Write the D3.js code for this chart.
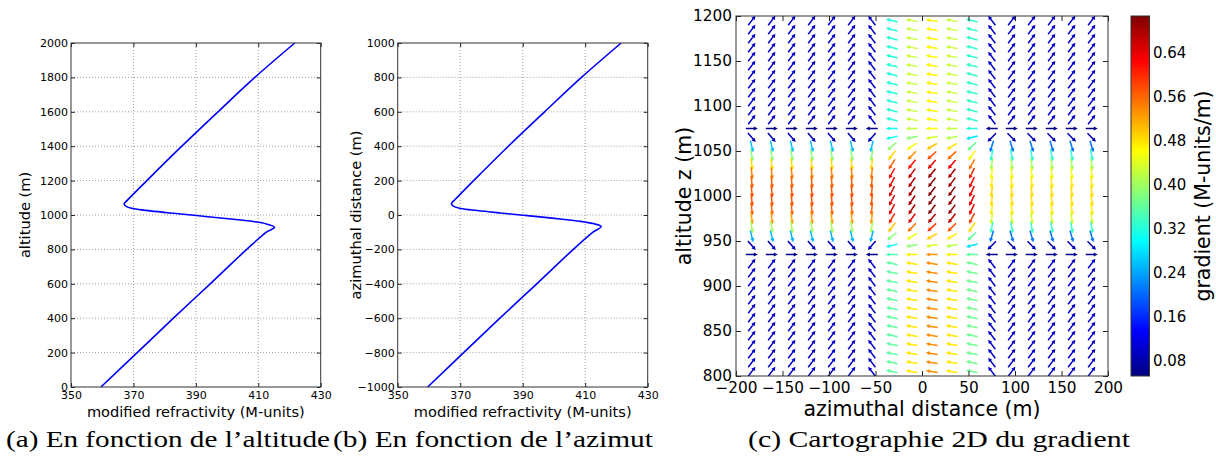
<!DOCTYPE html>
<html><head><meta charset="utf-8">
<script src="https://cdn.jsdelivr.net/npm/d3@7"></script>
<style>body{margin:0;background:#fff} text{font-family:"DejaVu Sans",sans-serif;fill:#000}</style>
</head><body><svg id="c" width="1216" height="461"></svg>
<script>
// ---------- data: panel (a) refractivity vs altitude ----------
const aAltitude = [0, 200, 400, 600, 800, 900, 929, 948, 962, 975, 987, 997, 1010, 1024, 1036, 1049, 1065, 1085, 1200, 1400, 1600, 1800, 2000];
const aM        = [359.6, 371.2, 382.8, 394.6, 406.3, 412.6, 415.2, 412.6, 408.3, 402.0, 395.5, 390.2, 382.8, 375.4, 370.2, 367.8, 367.0, 368.0, 374.3, 385.5, 397.1, 408.9, 421.7];
// ---------- data: panel (b) refractivity vs azimuthal distance ----------
const bAzimuth  = [-1000, -800, -600, -400, -200, -100, -67, -50, -36, -23, -11, -1, 12, 26, 38, 51, 67, 87, 200, 400, 600, 800, 1000];
const bM        = [359.6, 371.1, 382.7, 394.5, 406.2, 412.5, 415.1, 412.5, 408.2, 402.0, 395.5, 390.2, 382.8, 375.4, 370.2, 367.8, 367.2, 368.2, 374.3, 385.4, 397.0, 408.8, 421.5];
const profXTicks = [350, 370, 390, 410, 430];
const aYTicks = [0, 200, 400, 600, 800, 1000, 1200, 1400, 1600, 1800, 2000];
const bYTicks = [-1000, -800, -600, -400, -200, 0, 200, 400, 600, 800, 1000];

// ---------- data: panel (c) gradient field ----------
const colX = [-183, -161.5, -140, -118.5, -97, -75.5, -54, -32.5, -11, 10.5, 32, 53.5, 75, 96.5, 118, 139.5, 161, 182.5];
const rowZ = [1195, 1185, 1175, 1165, 1155, 1145, 1135, 1125, 1115, 1105, 1095, 1085, 1075, 1065, 1055, 1045, 1035, 1025, 1015, 1005,
              995, 985, 975, 965, 955, 945, 935, 925, 915, 905, 895, 885, 875, 865, 855, 845, 835, 825, 815, 805];
// x-gradient per column: above the layer, inside the layer, below the layer
const gxAbove = [0.06, 0.06, 0.06, 0.06, 0.06, 0.06, -0.06, -0.31, -0.42, -0.46, -0.42, -0.32, -0.06, 0.06, 0.06, 0.06, 0.06, 0.06];
const gxLayer = [0.06, 0.06, 0.06, 0.06, 0.06, 0.06, -0.06, -0.30, -0.38, -0.43, -0.41, -0.27, -0.06, 0.06, 0.06, 0.06, 0.06, 0.06];
const gxBelow = [0.06, 0.06, 0.06, 0.06, 0.06, 0.06, -0.06, -0.35, -0.47, -0.53, -0.47, -0.36, -0.06, 0.06, 0.06, 0.06, 0.06, 0.06];
// z-gradient per row: west/centre columns and east columns
const gzWest = [0.08, 0.08, 0.08, 0.08, 0.08, 0.08, 0.08, 0.08, 0.08, 0.08, 0.08, 0.08, 0.0, -0.07, -0.25, -0.38, -0.48, -0.54, -0.56, -0.57,
                -0.57, -0.56, -0.52, -0.40, -0.24, -0.07, 0.0, 0.08, 0.08, 0.08, 0.08, 0.08, 0.08, 0.08, 0.08, 0.08, 0.08, 0.08, 0.08, 0.08];
const gzEast = [0.08, 0.08, 0.08, 0.08, 0.08, 0.08, 0.08, 0.08, 0.08, 0.08, 0.08, 0.08, 0.0, -0.06, -0.20, -0.32, -0.40, -0.45, -0.47, -0.48,
                -0.48, -0.47, -0.43, -0.33, -0.20, -0.06, 0.0, 0.08, 0.08, 0.08, 0.08, 0.08, 0.08, 0.08, 0.08, 0.08, 0.08, 0.08, 0.08, 0.08];
const cXTicks = [-200, -150, -100, -50, 0, 50, 100, 150, 200];
const cYTicks = [800, 850, 900, 950, 1000, 1050, 1100, 1150, 1200];
const cbarDomain = [0.052, 0.707];
const cbarTicks = [0.08, 0.16, 0.24, 0.32, 0.40, 0.48, 0.56, 0.64];

const captions = [
  {t: "(a) En fonction de l’altitude", x: 6, w: 324},
  {t: "(b) En fonction de l’azimut", x: 333, w: 320},
  {t: "(c) Cartographie 2D du gradient", x: 748, w: 382}
];

// ---------- helpers ----------
const svg = d3.select("#c");
const defs = svg.append("defs");
function jet(t) {
  t = Math.max(0, Math.min(1, t));
  const c = v => Math.round(255 * Math.max(0, Math.min(1, v)));
  return `rgb(${c(1.5 - Math.abs(4 * t - 3))},${c(1.5 - Math.abs(4 * t - 2))},${c(1.5 - Math.abs(4 * t - 1))})`;
}

function frameAxes(g, x, y, xt, yt, fs, padX, padY, tick) {
  const [x0, x1] = x.range(), [y0, y1] = y.range();
  const ax = g.append("g").attr("transform", `translate(0,${y0})`)
    .call(d3.axisBottom(x).tickValues(xt).tickSize(-tick).tickPadding(padX).tickFormat(d3.format("d")));
  const at = g.append("g").attr("transform", `translate(0,${y1})`)
    .call(d3.axisTop(x).tickValues(xt).tickSize(-tick).tickFormat(""));
  const ay = g.append("g").attr("transform", `translate(${x0},0)`)
    .call(d3.axisLeft(y).tickValues(yt).tickSize(-tick).tickPadding(padY).tickFormat(d3.format("d")));
  const ar = g.append("g").attr("transform", `translate(${x1},0)`)
    .call(d3.axisRight(y).tickValues(yt).tickSize(-tick).tickFormat(""));
  [ax, at, ay, ar].forEach(a => {
    a.select(".domain").remove();
    a.selectAll("line").attr("stroke", "#222");
    a.selectAll("text").style("font-size", fs + "px").attr("fill", "#000").style("font-family", "DejaVu Sans");
  });
  g.append("rect").attr("x", x0).attr("y", y1).attr("width", x1 - x0).attr("height", y0 - y1)
    .attr("fill", "none").attr("stroke", "#333").attr("stroke-width", 1);
}

function profile(xs, ys, M, H, yt, ylabel, lx) {
  const g = svg.append("g");
  const x = d3.scaleLinear().domain([350, 430]).range(xs);
  const y = d3.scaleLinear().domain([yt[0], yt[yt.length - 1]]).range(ys);
  g.selectAll(".gx").data(profXTicks.slice(1, -1)).join("line")
    .attr("x1", d => x(d)).attr("x2", d => x(d)).attr("y1", ys[0]).attr("y2", ys[1])
    .attr("stroke", "#777").attr("stroke-width", 0.7).attr("stroke-dasharray", "1,2");
  g.selectAll(".gy").data(yt.slice(1, -1)).join("line")
    .attr("y1", d => y(d)).attr("y2", d => y(d)).attr("x1", xs[0]).attr("x2", xs[1])
    .attr("stroke", "#777").attr("stroke-width", 0.7).attr("stroke-dasharray", "1,2");
  const line = d3.line().x((d, i) => x(M[i])).y(d => y(d)).curve(d3.curveCatmullRom.alpha(0.5));
  g.append("path").attr("d", line(H)).attr("fill", "none").attr("stroke", "#0000ff").attr("stroke-width", 1.6);
  frameAxes(g, x, y, profXTicks, yt, 11, 4, 3, 4);
  g.append("text").attr("x", (xs[0] + xs[1]) / 2).attr("y", 417).attr("text-anchor", "middle")
    .style("font-size", "14.6px").text("modified refractivity (M-units)");
  g.append("text").attr("transform", `translate(${lx},${(ys[0] + ys[1]) / 2}) rotate(-90)`)
    .attr("text-anchor", "middle").attr("dy", "0.35em").style("font-size", "14.6px").text(ylabel);
}

profile([71, 320.7], [387, 43], aM, aAltitude, aYTicks, "altitude (m)", 25);
profile([397.7, 647.7], [387, 43], bM, bAzimuth, bYTicks, "azimuthal distance (m)", 356);

// ---------- panel (c) ----------
const gc = svg.append("g");
const cx = d3.scaleLinear().domain([-200, 200]).range([736, 1108]);
const cy = d3.scaleLinear().domain([800, 1200]).range([376, 16]);
const cc = d3.scaleLinear().domain(cbarDomain).range([0, 1]);
defs.append("clipPath").attr("id", "clipc").append("rect")
  .attr("x", 736).attr("y", 16).attr("width", 372).attr("height", 360);

const arrows = [];
rowZ.forEach((z, k) => {
  colX.forEach((xv, i) => {
    let gx;
    if (z > 1070) gx = gxAbove[i]; else if (z < 940) gx = gxBelow[i]; else gx = gxLayer[i];
    const gz = i >= 12 ? gzEast[k] : gzWest[k];
    arrows.push({x: xv, z: z, u: gx, v: gz});
  });
});
const L = 12, sw = 1.5, hw = 4.2, hl = 4.0;
function arrowPts(d) {
  const m = Math.hypot(d.u, d.v);
  const ux = d.u / m, uy = -d.v / m;
  const px = -uy, py = ux;
  const X = cx(d.x), Y = cy(d.z);
  const tx = X - ux * L / 2, ty = Y - uy * L / 2;
  const hx = X + ux * L / 2, hy = Y + uy * L / 2;
  const bx = hx - ux * hl, by = hy - uy * hl;
  const p = [
    [tx + px * sw / 2, ty + py * sw / 2], [bx + px * sw / 2, by + py * sw / 2], [bx + px * hw / 2, by + py * hw / 2],
    [hx, hy], [bx - px * hw / 2, by - py * hw / 2], [bx - px * sw / 2, by - py * sw / 2], [tx - px * sw / 2, ty - py * sw / 2]
  ];
  return p.map(q => q[0].toFixed(2) + "," + q[1].toFixed(2)).join(" ");
}
gc.append("g").attr("clip-path", "url(#clipc)").selectAll("polygon").data(arrows).join("polygon")
  .attr("points", arrowPts).attr("fill", d => jet(cc(Math.hypot(d.u, d.v))));

frameAxes(gc, cx, cy, cXTicks, cYTicks, 15.3, 6, 4, 5);
gc.append("text").attr("x", 922).attr("y", 416).attr("text-anchor", "middle")
  .style("font-size", "20.5px").text("azimuthal distance (m)");
gc.append("text").attr("transform", `translate(684,196) rotate(-90)`).attr("text-anchor", "middle")
  .attr("dy", "0.35em").style("font-size", "20.5px").text("altitude z (m)");

// colorbar
const grad = defs.append("linearGradient").attr("id", "jetg")
  .attr("x1", 0).attr("y1", 1).attr("x2", 0).attr("y2", 0);
[0, 0.125, 0.375, 0.625, 0.875, 1].forEach(t => grad.append("stop").attr("offset", t).attr("stop-color", jet(t)));
const cb = d3.scaleLinear().domain(cbarDomain).range([376, 16]);
svg.append("rect").attr("x", 1131).attr("y", 16).attr("width", 18.5).attr("height", 360)
  .attr("fill", "url(#jetg)").attr("stroke", "#333").attr("stroke-width", 1);
svg.selectAll(".cbt").data(cbarTicks).join("text")
  .attr("x", 1153).attr("y", d => cb(d)).attr("dy", "0.35em").style("font-size", "15px")
  .text(d => d3.format(".2f")(d));
svg.append("text").attr("transform", `translate(1203,196) rotate(-90)`).attr("text-anchor", "middle")
  .attr("dy", "0.35em").style("font-size", "20.5px").text("gradient (M-units/m)");

// captions
svg.selectAll(".cap").data(captions).join("text")
  .attr("x", d => d.x).attr("y", 447).attr("textLength", d => d.w).attr("lengthAdjust", "spacingAndGlyphs")
  .style("font-family", "'Liberation Serif', serif").style("font-size", "23px").text(d => d.t);
</script></body></html>
